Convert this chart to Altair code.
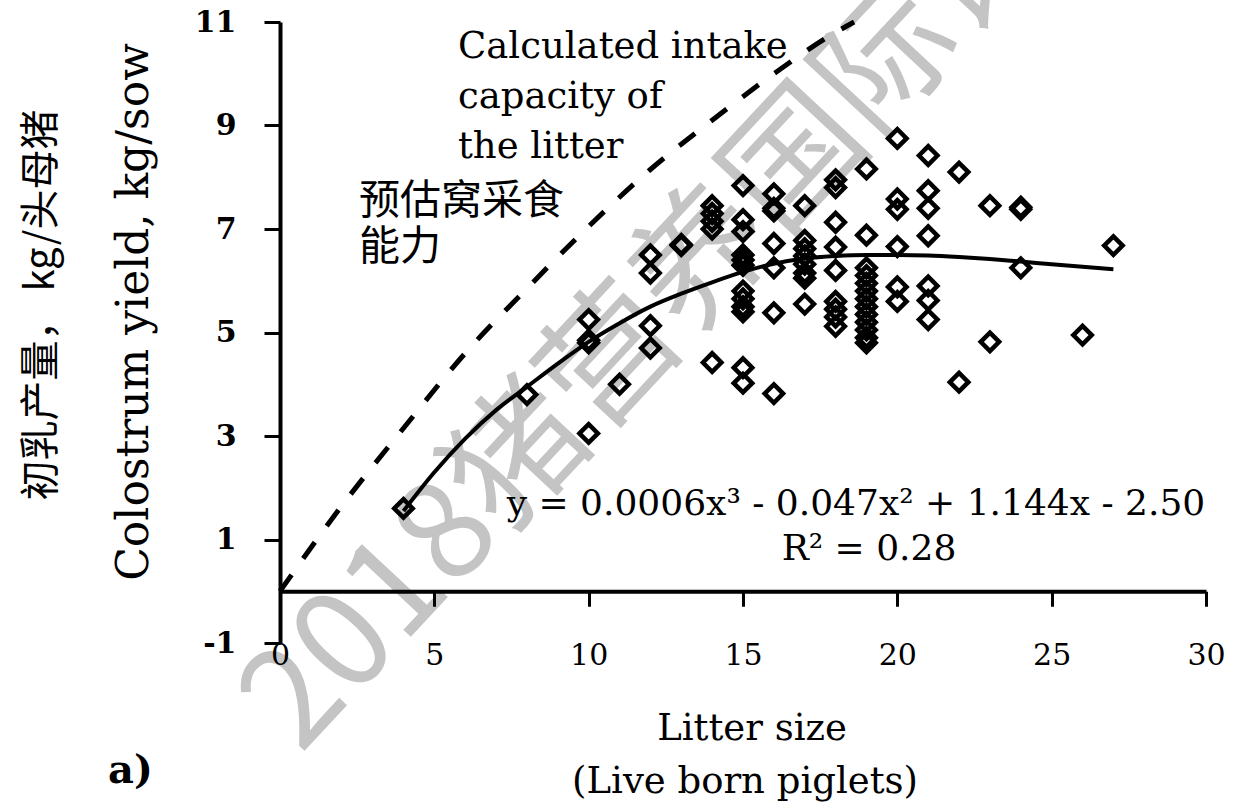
import altair as alt
import pandas as pd

# ---- data ----
litter_size = (
    [4] + [8] + [10] * 4 + [11] + [12] * 4 + [13] * 2 + [14] * 5 + [15] * 12 + [16] * 7
    + [17] * 8 + [18] * 9 + [19] * 13 + [20] * 6 + [21] * 7 + [22] * 2 + [23] * 2
    + [24] * 3 + [26] + [27]
)
colostrum = (
    [1.6]
    + [3.8]
    + [5.25, 4.85, 4.8, 3.05]
    + [4.0]
    + [6.5, 6.15, 5.13, 4.7]
    + [6.68, 6.7]
    + [7.45, 7.3, 7.15, 7.0, 4.42]
    + [7.84, 7.18, 6.95, 6.5, 6.4, 6.3, 5.8, 5.65, 5.5, 5.4, 4.32, 4.02]
    + [7.68, 7.4, 7.35, 6.72, 6.25, 5.38, 3.82]
    + [7.45, 6.78, 6.62, 6.48, 6.32, 6.15, 6.05, 5.55]
    + [7.95, 7.8, 7.13, 6.65, 6.2, 5.6, 5.45, 5.3, 5.12]
    + [8.16, 6.88, 6.25, 6.1, 5.95, 5.8, 5.65, 5.5, 5.35, 5.2, 5.05, 4.9, 4.8]
    + [8.75, 7.58, 7.38, 6.66, 5.88, 5.6]
    + [8.42, 7.74, 7.4, 6.87, 5.9, 5.62, 5.25]
    + [8.1, 4.04]
    + [7.45, 4.82]
    + [7.42, 7.38, 6.25]
    + [4.95]
    + [6.68]
)

fit_x = [4, 5, 6, 7, 8, 9, 10, 11, 12, 13, 14, 15, 16, 17, 18, 19, 20, 21, 22, 23, 24, 25, 26, 27]
fit_y = [1.55, 2.3, 2.95, 3.5, 3.95, 4.4, 4.82, 5.18, 5.5, 5.75, 5.97, 6.17, 6.33, 6.43,
         6.48, 6.5, 6.5, 6.49, 6.46, 6.42, 6.37, 6.32, 6.27, 6.22]

cap_x = [0, 2, 4, 6, 8, 10, 12, 14, 16, 18, 18.6]
cap_y = [0, 1.65, 3.15, 4.6, 5.85, 7.05, 8.15, 9.1, 10.0, 10.8, 11.0]

x_ticks = [0, 5, 10, 15, 20, 25, 30]
y_ticks = [-1, 1, 3, 5, 7, 9, 11]

cap_label = ["Calculated intake", "capacity of", "the litter"]
cap_label_cn = ["预估窝采食", "能力"]
equation = "y = 0.0006x³ - 0.047x² + 1.144x - 2.50"
r_squared = "R² = 0.28"
y_title = "Colostrum yield, kg/sow"
y_title_cn = "初乳产量， kg/头母猪"
x_title = ["Litter size", "(Live born piglets)"]
panel = "a)"
watermark = "2018猪营养国际论坛"

SERIF = "DejaVu Serif"
CJK = "Noto Sans CJK SC"

pts = pd.DataFrame({"x": litter_size, "y": colostrum})
fit = pd.DataFrame({"x": fit_x, "y": fit_y})
cap = pd.DataFrame({"x": cap_x, "y": cap_y})

xscale = alt.Scale(domain=[0, 30], nice=False, zero=False)
yscale = alt.Scale(domain=[-1, 11], nice=False, zero=False)
xaxis = alt.Axis(values=x_ticks, title=None, grid=False, offset=-51.75, tickSize=15,
                 tickWidth=3, domainWidth=4, domainColor="black", tickColor="black",
                 labelFont=SERIF, labelFontSize=30, labelColor="black", labelPadding=34,
                 labelFlush=False, zindex=1)
yaxis = alt.Axis(values=y_ticks, title=None, grid=False, tickSize=16, tickWidth=3,
                 domainWidth=4, domainColor="black", tickColor="black",
                 labelFont=SERIF, labelFontSize=30, labelFontWeight="bold",
                 labelExpr="replace(datum.label, '\u2212', '-')",
                 labelColor="black", labelPadding=28, zindex=1)
X = alt.X("x:Q", scale=xscale, axis=xaxis)
Y = alt.Y("y:Q", scale=yscale, axis=yaxis)

one = pd.DataFrame({"a": [0]})


def text_layer(txt, px, py, **kw):
    return alt.Chart(one).mark_text(text=txt, color=kw.pop("color", "black"), **kw).encode(
        x=alt.value(px - 280), y=alt.value(py - 22)
    )


wm = text_layer(watermark, 695, 272, font=CJK, fontSize=135, fontWeight="normal",
                color="#c4c4c4", angle=313, align="center", baseline="middle")

cap_line = alt.Chart(cap).mark_line(color="black", strokeWidth=5, strokeDash=[20, 20],
                                     interpolate="monotone").encode(x=X, y=Y)
fit_line = alt.Chart(fit).mark_line(color="black", strokeWidth=4,
                                     interpolate="monotone").encode(x=X, y=Y)
points = alt.Chart(pts).mark_point(shape="diamond", filled=False, size=340, strokeWidth=4.5,
                                   color="black", opacity=1).encode(x=X, y=Y)

texts = [
    text_layer(cap_label, 458, 58, font=SERIF, fontSize=37, align="left",
               baseline="alphabetic", lineHeight=50),
    text_layer(cap_label_cn, 359, 214, font=CJK, fontSize=41, align="left",
               baseline="alphabetic", lineHeight=46),
    text_layer(equation, 856, 515, font=SERIF, fontSize=36, align="center",
               baseline="alphabetic"),
    text_layer(r_squared, 869, 560, font=SERIF, fontSize=36, align="center",
               baseline="alphabetic"),
    text_layer(y_title, 135, 312, font=SERIF, fontSize=44, angle=270, align="center",
               baseline="middle"),
    text_layer(y_title_cn, 42, 305, font=CJK, fontSize=40, angle=270, align="center",
               baseline="middle"),
    text_layer(x_title[0], 752, 740, font=SERIF, fontSize=37, align="center",
               baseline="alphabetic"),
    text_layer(x_title[1], 745, 793, font=SERIF, fontSize=37, align="center",
               baseline="alphabetic"),
    text_layer(panel, 108, 783, font=SERIF, fontSize=40, fontWeight="bold", align="left",
               baseline="alphabetic"),
]

chart = alt.layer(wm, cap_line, fit_line, points, *texts).properties(
    width=926,
    height=621,
    padding={"left": 280, "top": 22, "right": 34, "bottom": 165},
    autosize=alt.AutoSizeParams(type="none"),
    background="white",
).configure_view(stroke=None)

chart.save("out.html", embed_options={"renderer": "svg", "actions": False})
